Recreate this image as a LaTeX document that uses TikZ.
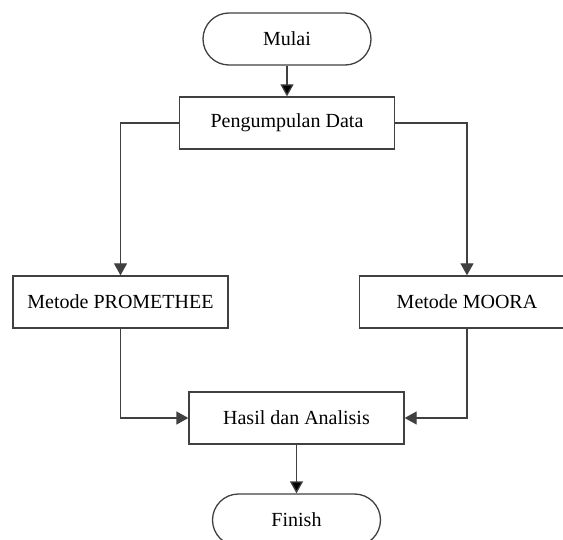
\documentclass[tikz,border=0pt]{standalone}
\usepackage{fontspec}
\setmainfont{Liberation Serif}
\usepackage{tikz}
\usetikzlibrary{arrows.meta}

\definecolor{garis}{RGB}{64,64,64}

\tikzset{
	terminal/.style={draw=garis, line width=0.65pt, rectangle, rounded corners=13pt,
		minimum width=84pt, minimum height=26pt, inner sep=0pt, font=\fontsize{10}{12}\selectfont},
	proses/.style={draw=garis, line width=0.65pt, rectangle,
		minimum width=107.5pt, minimum height=26pt, inner sep=0pt, font=\fontsize{10}{12}\selectfont},
}

\begin{document}
\begin{tikzpicture}[x=0.5pt, y=-0.5pt, >={Triangle[length=6pt,width=6.5pt]}, node distance=42pt]
	\useasboundingbox (0,0) rectangle (563,540);

	% Nodes {mulai, data, promethee, moora, hasil, finish}
	\node [terminal]	(mulai)						at (287,39)		{Mulai};
	\node [proses]		(data)		[below of=mulai]					{Pengumpulan Data};
	\node [proses]		(promethee)					at (120.5,302)	{Metode PROMETHEE};
	\node [proses]		(moora)						at (467,302)	{Metode MOORA};
	\node [proses]		(hasil)						at (296.5,418)	{Hasil dan Analisis};
	\node [terminal]	(finish)	[below of=hasil, node distance=51pt]	{Finish};

	% Paths
	\path [->, draw=garis, line width=0.65pt]	(mulai)	edge	(data);
	\draw [->, garis, line width=0.65pt]	(data.west)	-|	(promethee.north);
	\draw [->, garis, line width=0.65pt]	(data.east)	-|	(moora.north);
	\draw [->, garis, line width=0.65pt]	(promethee.south)	|-	(hasil.west);
	\draw [->, garis, line width=0.65pt]	(moora.south)	|-	(hasil.east);
	\path [->, draw=garis, line width=0.65pt]	(hasil)	edge	(finish);

\end{tikzpicture}
\end{document}
